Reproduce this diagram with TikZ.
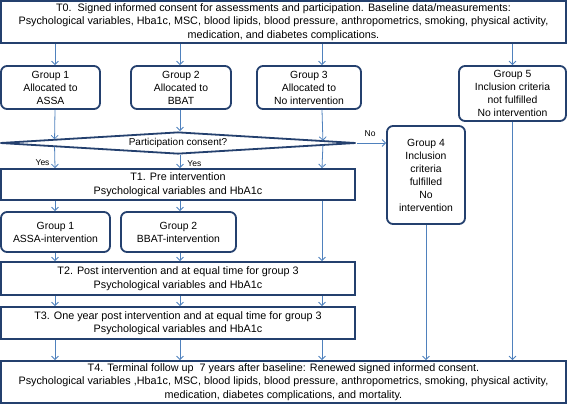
\documentclass[tikz,border=0pt]{standalone}
\usepackage{fontspec}
\setmainfont{Liberation Sans}
\usetikzlibrary{shapes.geometric,arrows.meta,calc}
\definecolor{boxblue}{RGB}{36,64,110}
\definecolor{linkblue}{RGB}{79,129,189}
\begin{document}
\begin{tikzpicture}[x=1pt, y=-1pt,
  box/.style={draw=boxblue, line width=1.8pt, fill=white, align=center, inner sep=1pt,
    font=\fontsize{10.8}{13.5}\selectfont},
  grp/.style={box, rounded corners=6pt, font=\fontsize{10.4}{13}\selectfont},
  flow/.style={->, draw=linkblue, line width=0.8pt},
  lbl/.style={font=\fontsize{8.5}{10}\selectfont, inner sep=1pt},
  >={Straight Barb[length=3.5pt,width=7pt]}]
\useasboundingbox (0,0) rectangle (569,405);

% columns of the arrows
\coordinate (ca) at (55,0);
\coordinate (cb) at (180,0);
\coordinate (cc) at (322,0);

\node[box, minimum width=565, minimum height=42] (t0) at (283.5,22)
  {T0.\ \ Signed informed consent for assessments and participation. Baseline data/measurements:\\
   Psychological variables, Hba1c, MSC, blood lipids, blood pressure, anthropometrics, smoking, physical activity,\\
   medication, and diabetes complications.};

\node[grp, minimum width=99, minimum height=43] (g1) at (50.5,87.5) {Group 1\\Allocated to\\ASSA};
\node[grp, minimum width=100, minimum height=43] (g2) at (181,87.5) {Group 2\\Allocated to\\BBAT};
\node[grp, minimum width=104, minimum height=43] (g3) at (309,87.5) {Group 3\\Allocated to\\No intervention};
\node[grp, minimum width=107, minimum height=55] (g5) at (512.5,93.5) {Group 5\\Inclusion criteria\\not fulfilled\\No intervention};

\node[box, shape=diamond, aspect=16, inner sep=0pt, minimum width=356, minimum height=22,
  font=\fontsize{10}{12}\selectfont] (cons) at (178,143)
  {Participation consent?};
\node[grp, minimum width=78, minimum height=98] (g4) at (426,175)
  {Group 4\\Inclusion\\criteria\\fulfilled\\No\\intervention};

\node[box, minimum width=354, minimum height=31] (t1) at (178,184.5)
  {T1. Pre intervention\\Psychological variables and HbA1c};
\node[grp, minimum width=109, minimum height=40] (g1i) at (55.5,232) {Group 1\\ASSA-intervention};
\node[grp, minimum width=115, minimum height=40] (g2i) at (178.5,232) {Group 2\\BBAT-intervention};
\node[box, minimum width=354, minimum height=33] (t2) at (178,278.5)
  {T2. Post intervention and at equal time for group 3\\Psychological variables and HbA1c};
\node[box, minimum width=354, minimum height=32] (t3) at (178,323)
  {T3. One year post intervention and at equal time for group 3\\Psychological variables and HbA1c};
\node[box, minimum width=565, minimum height=42] (t4) at (283.5,382)
  {T4. Terminal follow up\ \ 7 years after baseline: Renewed signed informed consent.\\
   Psychological variables ,Hba1c, MSC, blood lipids, blood pressure, anthropometrics, smoking, physical activity,\\
   medication, diabetes complications, and mortality.};

% baseline to groups
\draw[flow] (t0.south -| ca) -- (g1.north -| ca);
\draw[flow] (t0.south -| cb) -- (g2.north -| cb);
\draw[flow] (t0.south -| cc) -- (g3.north -| cc);
\draw[flow] (t0.south -| g5.north) -- (g5.north);

% groups to consent
\draw[flow] (g1.south -| ca) -- ($(cons.west)!0.31!(cons.north)$);
\draw[flow] (g2.south -| cb) -- (cons.north -| cb);
\draw[flow] (g3.south -| cc) -- ($(cons.north)!0.81!(cons.east)$);
\draw[flow] (cons.east) -- node[lbl, pos=0.45, above=5pt] {No} (cons.east -| g4.west);

% consent to T1
\draw[flow] ($(cons.west)!0.31!(cons.south)$) -- node[lbl, pos=0.75, left=4pt] {Yes} (t1.north -| ca);
\draw[flow] (cons.south -| cb) -- node[lbl, pos=0.65, right=6pt] {Yes} (t1.north -| cb);
\draw[flow] ($(cons.south)!0.81!(cons.east)$) -- (t1.north -| cc);

% T1 to T2
\draw[flow] (t1.south -| ca) -- (g1i.north -| ca);
\draw[flow] (t1.south -| cb) -- (g2i.north -| cb);
\draw[flow] (t1.south -| cc) -- (t2.north -| cc);
\draw[flow] (g1i.south -| ca) -- (t2.north -| ca);
\draw[flow] (g2i.south -| cb) -- (t2.north -| cb);

% T2 to T3 to T4
\foreach \c in {ca,cb,cc} {
  \draw[flow] (t2.south -| \c) -- (t3.north -| \c);
  \draw[flow] (t3.south -| \c) -- (t4.north -| \c);
}
\draw[flow] (g4.south) -- (t4.north -| g4.south);
\draw[flow] (g5.south) -- (t4.north -| g5.south);
\end{tikzpicture}
\end{document}
